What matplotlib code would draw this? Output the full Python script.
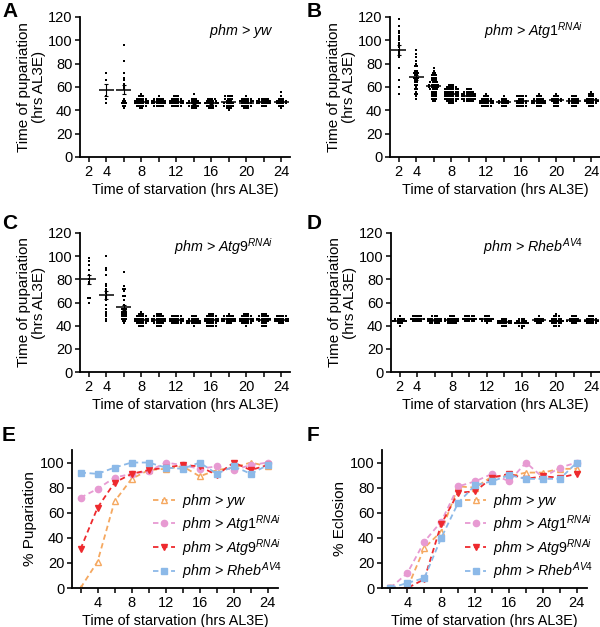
import numpy as np
import matplotlib
matplotlib.use("Agg")
import matplotlib.pyplot as plt

plt.rcParams['font.family'] = ['Liberation Sans', 'DejaVu Sans']
plt.rcParams['mathtext.fontset'] = 'custom'
plt.rcParams['mathtext.rm'] = 'Liberation Sans'
plt.rcParams['mathtext.it'] = 'Liberation Sans:italic'
plt.rcParams['mathtext.bf'] = 'Liberation Sans:bold'

# ---------------- data: scatter panels (value, count) rows per time point ----
A_times = [4, 6, 8, 10, 12, 14, 16, 18, 20, 22, 24]
A_rows = [
    [(72, 1), (66, 1), (52, 1), (50, 1), (46, 1)],
    [(96, 1), (82, 1), (72, 1), (68, 1), (66, 1), (63, 1), (60, 1), (58, 1),
     (50, 1), (48, 2), (46, 3), (44, 2), (42, 1)],
    [(54, 1), (52, 3), (50, 5), (48, 7), (46, 7), (44, 5), (42, 2)],
    [(52, 1), (50, 5), (48, 7), (46, 7), (44, 5)],
    [(52, 3), (50, 5), (48, 7), (46, 7), (44, 5)],
    [(54, 1), (50, 3), (48, 5), (46, 7), (44, 5), (42, 3)],
    [(50, 4), (48, 5), (46, 7), (44, 5), (42, 3)],
    [(52, 4), (50, 4), (48, 3), (46, 5), (44, 5), (42, 3), (40, 1)],
    [(52, 1), (50, 5), (48, 7), (46, 5), (44, 5), (42, 3)],
    [(50, 5), (48, 7), (46, 7), (44, 3)],
    [(56, 1), (52, 1), (50, 3), (48, 5), (46, 5), (44, 3), (42, 1)],
]

B_times = [2, 4, 6, 8, 10, 12, 14, 16, 18, 20, 22, 24]
B_rows = [
    [(118, 1), (112, 1), (108, 1), (106, 1), (104, 1), (102, 1), (100, 1), (98, 1),
     (96, 1), (94, 1), (92, 1), (90, 1), (88, 1), (86, 1), (76, 1), (66, 1), (60, 1), (54, 1)],
    [(92, 1), (88, 1), (86, 1), (82, 1), (80, 1), (78, 2), (74, 2), (72, 3), (70, 2),
     (68, 3), (66, 2), (64, 2), (62, 2), (60, 1), (58, 2), (56, 1), (54, 2), (52, 1), (50, 1)],
    [(76, 1), (74, 1), (72, 2), (70, 3), (68, 3), (66, 3), (64, 4), (62, 5), (60, 5),
     (58, 4), (56, 3), (54, 3), (52, 3), (50, 3), (48, 2)],
    [(62, 3), (60, 5), (58, 7), (56, 7), (54, 7), (52, 7), (50, 7), (48, 5), (46, 3)],
    [(58, 3), (56, 5), (54, 7), (52, 7), (50, 7), (48, 5)],
    [(54, 1), (52, 3), (50, 5), (48, 7), (46, 7), (44, 5)],
    [(52, 1), (50, 3), (48, 5), (46, 5), (44, 3)],
    [(52, 5), (50, 3), (48, 5), (46, 5), (44, 5)],
    [(54, 1), (52, 3), (50, 5), (48, 7), (46, 7), (44, 3)],
    [(54, 1), (52, 3), (50, 5), (48, 5), (46, 3), (44, 3)],
    [(52, 3), (50, 5), (48, 5), (46, 5), (44, 3)],
    [(56, 1), (54, 3), (52, 3), (50, 5), (48, 7), (46, 5), (44, 3)],
]

C_times = [2, 4, 6, 8, 10, 12, 14, 16, 18, 20, 22, 24]
C_rows = [
    [(98, 1), (96, 1), (92, 1), (88, 1), (84, 1), (80, 1), (78, 1), (76, 1), (64, 2), (60, 1)],
    [(100, 1), (90, 1), (88, 1), (84, 1), (76, 1), (74, 1), (72, 1), (70, 1), (68, 1),
     (66, 1), (64, 1), (62, 1), (58, 1), (54, 1), (52, 1), (50, 1), (48, 1), (46, 1), (44, 1)],
    [(86, 1), (74, 1), (72, 2), (70, 1), (66, 2), (62, 1), (58, 1), (54, 3), (52, 3),
     (50, 3), (48, 3), (46, 3), (44, 2), (42, 1)],
    [(52, 1), (50, 3), (48, 5), (46, 7), (44, 7), (42, 5), (40, 3)],
    [(50, 3), (48, 5), (46, 7), (44, 7), (42, 5), (40, 3)],
    [(48, 5), (46, 7), (44, 7), (42, 5)],
    [(48, 3), (46, 5), (44, 7), (42, 7), (40, 1)],
    [(50, 3), (48, 5), (46, 7), (44, 7), (42, 5), (40, 5)],
    [(50, 1), (48, 5), (46, 7), (44, 7), (42, 3)],
    [(50, 3), (48, 5), (46, 7), (44, 7), (42, 5), (40, 1)],
    [(50, 3), (48, 5), (46, 7), (44, 5), (42, 3), (40, 3)],
    [(48, 5), (46, 7), (44, 7), (42, 3)],
]

D_times = [2, 4, 6, 8, 10, 12, 14, 16, 18, 20, 22, 24]
D_rows = [
    [(48, 1), (46, 5), (44, 7), (42, 3), (40, 1)],
    [(48, 5), (46, 7), (44, 5)],
    [(48, 3), (46, 7), (44, 7), (42, 5)],
    [(48, 3), (46, 7), (44, 7), (42, 5)],
    [(48, 5), (46, 7), (44, 5)],
    [(48, 3), (46, 7), (44, 5), (42, 1)],
    [(46, 3), (44, 7), (42, 7), (40, 3)],
    [(46, 3), (44, 5), (42, 7), (40, 3), (38, 1)],
    [(48, 1), (46, 5), (44, 5), (42, 3)],
    [(50, 1), (48, 3), (46, 5), (44, 7), (42, 5), (40, 3)],
    [(48, 3), (46, 5), (44, 7), (42, 3)],
    [(48, 3), (46, 5), (44, 7), (42, 5)],
]

scatter_titles = [r'$phm$ > $yw$', r'$phm$ > $Atg1^{RNAi}$',
                  r'$phm$ > $Atg9^{RNAi}$', r'$phm$ > $Rheb^{AV4}$']

# ---------------- data: line panels ----------------
line_times = [2, 4, 6, 8, 10, 12, 14, 16, 18, 20, 22, 24]
E_yw = [0, 21, 69, 87, 94, 95, 97, 89, 94, 96, 100, 97]
E_atg1 = [72, 79, 88, 91, 93, 100, 98, 95, 97, 94, 98, 100]
E_atg9 = [31, 64, 84, 91, 94, 96, 98, 97, 90, 100, 94, 98]
E_rheb = [92, 91, 96, 100, 100, 96, 95, 100, 91, 97, 91, 98]

F_yw = [0, 0, 32, 45, 81, 80, 89, 89, 92, 92, 95, 95]
F_atg1 = [0, 12, 37, 53, 81, 85, 91, 85, 100, 88, 96, 100]
F_atg9 = [0, 0, 7, 51, 76, 77, 88, 91, 87, 89, 88, 91]
F_rheb = [0, 4, 8, 40, 68, 82, 85, 90, 87, 87, 87, 100]

series_labels = [r'$phm$ > $yw$', r'$phm$ > $Atg1^{RNAi}$',
                 r'$phm$ > $Atg9^{RNAi}$', r'$phm$ > $Rheb^{AV4}$']
series_colors = ['#F5A860', '#E79AD2', '#EE2A2E', '#8CB9E8']
series_markers = ['^', 'o', 'v', 's']

# ---------------- figure ----------------
W, H = 600, 627
fig = plt.figure(figsize=(6.0, 6.27), dpi=100)


def ax_px(l, t, r, b):
    return fig.add_axes([l / W, 1 - b / H, (r - l) / W, (b - t) / H])


LFS = 10.4   # axis-label size
TFS = 10.5   # tick-label size


def style(ax):
    for s in ['top', 'right']:
        ax.spines[s].set_visible(False)
    for s in ['left', 'bottom']:
        ax.spines[s].set_linewidth(1.3)
    ax.tick_params(direction='out', length=3.5, width=1.1, labelsize=TFS, pad=2)


def scatter_panel(ax, times, rows, title):
    dx = 0.25
    for x, rr in zip(times, rows):
        vals = []
        for v, c in rr:
            off = (np.arange(c) - (c - 1) / 2) * dx
            ax.scatter(x + off, [v] * c, s=1.6, c='k', marker='s', lw=0, zorder=3)
            vals += [v] * c
        vals = np.array(vals, float)
        m = vals.mean()
        sem = vals.std(ddof=1) / np.sqrt(len(vals))
        ax.hlines(m, x - 0.85, x + 0.85, color='k', lw=1.1, zorder=4)
        ax.errorbar(x, m, yerr=sem, color='k', lw=0.8, capsize=1.5, capthick=0.8, zorder=4)
    ax.set_xlim(1, 25)
    ax.set_ylim(0, 120)
    ax.set_yticks(range(0, 121, 20))
    ax.set_xticks(range(2, 25, 2))
    ax.set_xticklabels(['2', '4', '', '8', '', '12', '', '16', '', '20', '', '24'])
    ax.set_ylabel('Time of pupariation\n(hrs AL3E)', fontsize=LFS + 0.6, labelpad=1, linespacing=1.1)
    ax.set_xlabel('Time of starvation (hrs AL3E)', fontsize=LFS, labelpad=3)
    ax.text(0.92, 0.9, title, transform=ax.transAxes, ha='right', va='center', fontsize=10.3)
    style(ax)


axA = ax_px(80, 17, 290, 157)
axB = ax_px(390, 17, 600, 157)
axC = ax_px(80, 233, 290, 372)
axD = ax_px(391, 233, 600, 372)
scatter_panel(axA, A_times, A_rows, scatter_titles[0])
scatter_panel(axB, B_times, B_rows, scatter_titles[1])
scatter_panel(axC, C_times, C_rows, scatter_titles[2])
scatter_panel(axD, D_times, D_rows, scatter_titles[3])


def line_panel(ax, series, ylabel, legx):
    for vals, lab, col, mk in zip(series, series_labels, series_colors, series_markers):
        mfc = 'white' if mk == '^' else col
        ax.plot(line_times, vals, ls='--', color=col, lw=1.3, marker=mk, ms=4.5,
                mfc=mfc, mec=col, mew=1.0, label=lab, dashes=(3, 2))
    ax.set_xlim(1, 25.2)
    ax.set_ylim(0, 110)
    ax.set_yticks(range(0, 101, 20))
    ax.set_xticks(range(2, 25, 2))
    ax.set_xticklabels(['', '4', '', '8', '', '12', '', '16', '', '20', '', '24'])
    ax.set_ylabel(ylabel, fontsize=LFS + 0.6, labelpad=2)
    ax.set_xlabel('Time of starvation (hrs AL3E)', fontsize=LFS, labelpad=3)
    ax.legend(loc='lower left', bbox_to_anchor=(legx, 0.02), frameon=False,
              fontsize=10.3, handlelength=1.5, handletextpad=0.5, labelspacing=0.22,
              borderpad=0.2, borderaxespad=0.0)
    style(ax)


axE = ax_px(72, 450, 278, 588)
axF = ax_px(382, 450, 587, 588)
line_panel(axE, [E_yw, E_atg1, E_atg9, E_rheb], '% Pupariation', 0.38)
line_panel(axF, [F_yw, F_atg1, F_atg9, F_rheb], '% Eclosion', 0.39)

# panel letters
for lab, x, y in [('A', 2, 2), ('B', 307, 2), ('C', 2, 214), ('D', 307, 214),
                  ('E', 2, 426), ('F', 307, 426)]:
    fig.text(x / W, 1 - y / H, lab, fontsize=15, fontweight='bold', ha='left', va='top')

fig.savefig('out.png', dpi=100)
